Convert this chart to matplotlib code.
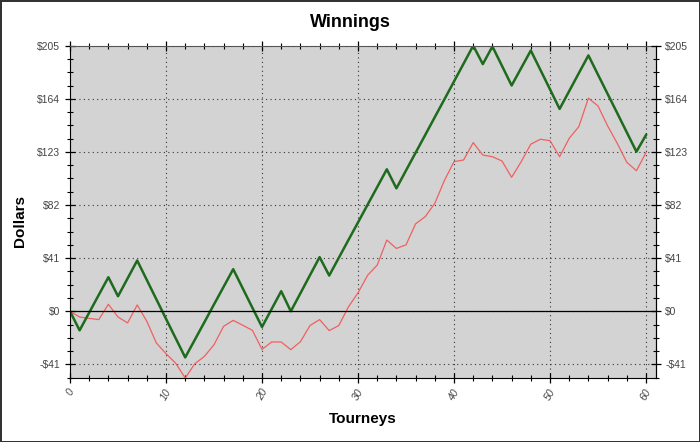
import numpy as np
import matplotlib
matplotlib.use("Agg")
import matplotlib.pyplot as plt
from matplotlib.ticker import MultipleLocator, FuncFormatter

plt.rcParams['font.family'] = ['Liberation Sans', 'DejaVu Sans']

# data
tourneys = np.arange(0, 61)
green = [0, -14.7, -1, 12.7, 26.3, 11.6, 25.4, 39.2, 24.2, 9.2,
         -5.8, -20.7, -35.6, -22, -8.4, 5.3, 18.9, 32.5, 17.6, 2.7,
         -12.1, 1.7, 15.5, 0, 13.9, 27.9, 41.8, 27.6, 41.3, 55,
         68.6, 82.3, 95.9, 109.6, 94.9, 108.7, 122.4, 136.1, 149.9, 163.6,
         177.4, 191.2, 205, 190.8, 204.4, 189.4, 174.3, 187.8, 201.3, 186.3,
         171.3, 156.2, 170, 183.8, 197.5, 182.6, 167.8, 153, 138.1, 123.2,
         136.1]
red = [0, -4.4, -5.5, -6.4, 5.4, -4.4, -9, 4.9, -7.7, -24.5,
       -32.7, -40, -51.5, -40.5, -34.8, -25.8, -11.6, -7, -10.8, -14.7,
       -29.4, -23.7, -23.7, -29.6, -23.5, -11, -6.4, -14.9, -11, 3.4,
       14.2, 27.8, 35.6, 55, 48.5, 51.3, 67.5, 73, 83.3, 101,
       115.5, 116.8, 130.2, 120.6, 119.3, 116, 103.4, 115.5, 129, 132.8,
       131.7, 119.3, 133.5, 142.5, 164.5, 158.5, 143.1, 129.7, 115, 108.5,
       122.5]

fig = plt.figure(figsize=(7, 4.42), dpi=100)
fig.patch.set_edgecolor('#333333')
fig.patch.set_linewidth(2)
ax = fig.add_axes([0.1, 0.1455, 0.8366, 0.7511])
ax.set_facecolor('#d3d3d3')

ax.plot(tourneys, red, color='#f06060', lw=0.9)
ax.plot(tourneys, green, color='#1e6b1e', lw=1.8)
ax.axhline(0, color='black', lw=0.9)

ax.set_xlim(0, 61)
ax.set_ylim(-51.25, 205)
ax.xaxis.set_major_locator(MultipleLocator(10))
ax.xaxis.set_minor_locator(MultipleLocator(2))
ax.yaxis.set_major_locator(MultipleLocator(41))
ax.yaxis.set_minor_locator(MultipleLocator(10.25))
money = FuncFormatter(lambda v, p: ('-$%d' % -round(v)) if v < -0.5 else '$%d' % round(v))
ax.yaxis.set_major_formatter(money)
ax.grid(True, which='major', color='#333333', ls=(0, (1, 3)), lw=0.8)

ax.tick_params(which='major', direction='inout', length=7, width=0.9,
               labelsize=7.5, labelcolor='#444444', top=True)
ax.tick_params(which='minor', direction='inout', length=4, width=0.8, top=True)
for lbl in ax.get_xticklabels():
    lbl.set_rotation(60)
    lbl.set_style('italic')

ax2 = ax.twinx()
ax2.set_ylim(ax.get_ylim())
ax2.yaxis.set_major_locator(MultipleLocator(41))
ax2.yaxis.set_minor_locator(MultipleLocator(10.25))
ax2.yaxis.set_major_formatter(money)
ax2.tick_params(which='major', direction='inout', length=7, width=0.9,
                labelsize=7.5, labelcolor='#444444')
ax2.tick_params(which='minor', direction='inout', length=4, width=0.8)
for sp in ax2.spines.values():
    sp.set_visible(False)
ax2.spines['right'].set_visible(True)
ax.spines['top'].set_color('#555555')

fig.text(0.5, 0.95, 'Winnings', ha='center', va='center', fontsize=13, fontweight='bold')
fig.text(0.518, 0.052, 'Tourneys', ha='center', va='center', fontsize=11, fontweight='bold')
fig.text(0.028, 0.5, 'Dollars', ha='center', va='center', fontsize=11, fontweight='bold', rotation=90)

fig.savefig('out.png', dpi=100, edgecolor=fig.get_edgecolor())
